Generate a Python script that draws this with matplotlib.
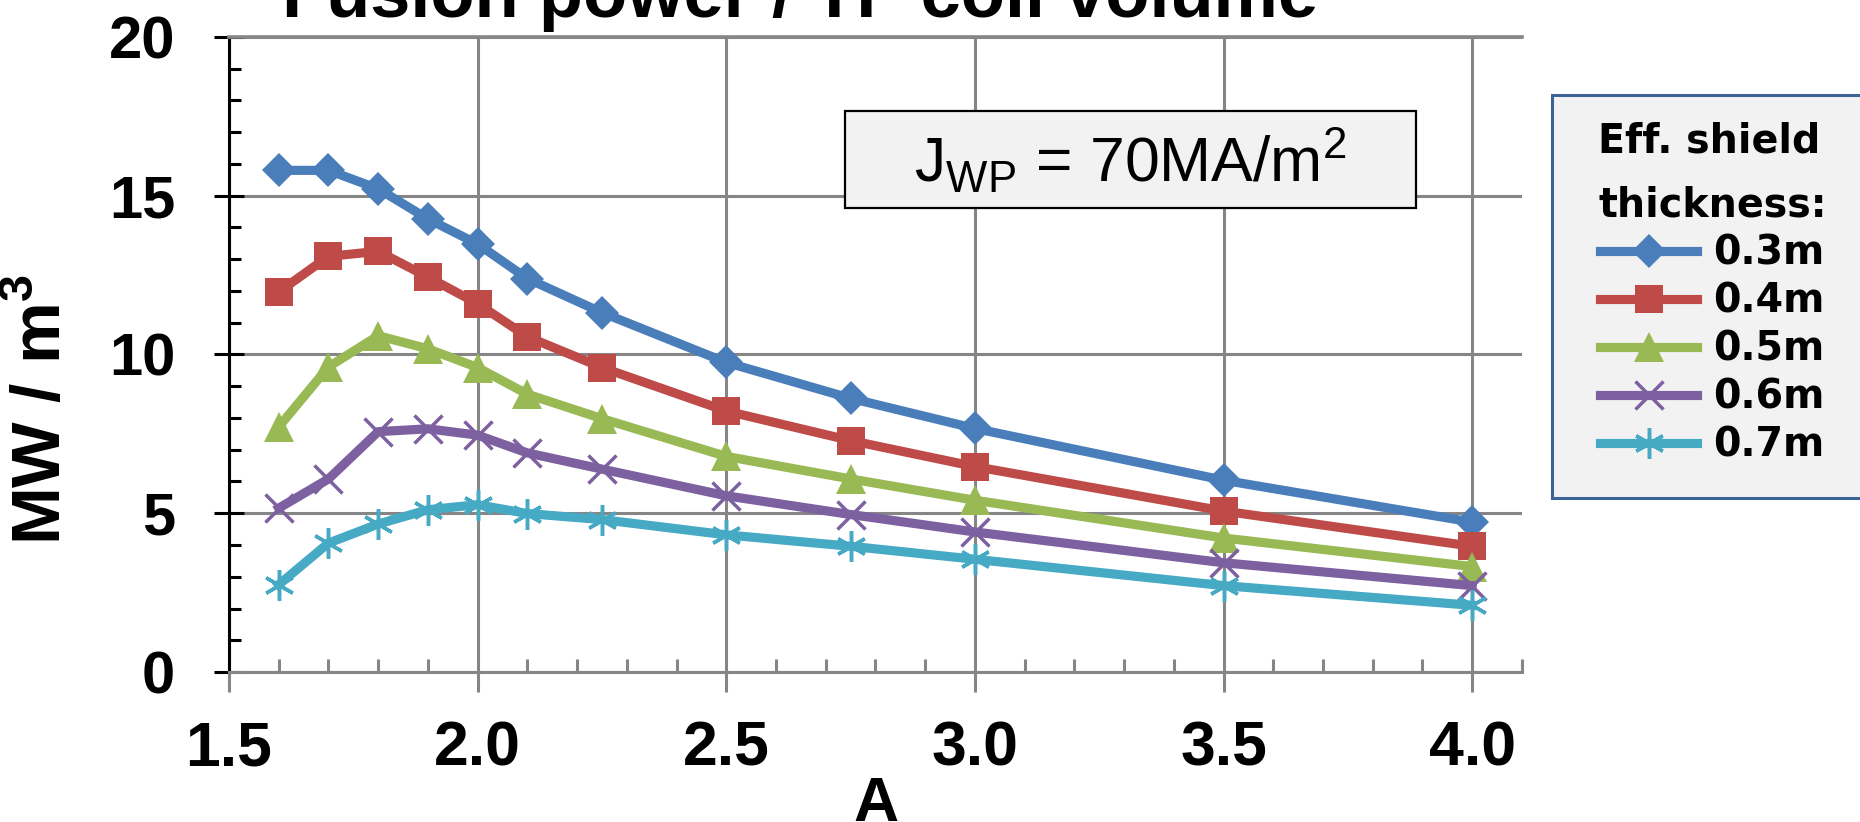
import matplotlib
matplotlib.use("Agg")
import matplotlib.pyplot as plt
from matplotlib import font_manager
from matplotlib.patches import Rectangle
from matplotlib.ticker import MultipleLocator, FormatStrFormatter

# aspect ratio A vs fusion power density for several effective shield thicknesses
A = [1.6, 1.7, 1.8, 1.9, 2.0, 2.1, 2.25, 2.5, 2.75, 3.0, 3.5, 4.0]
p_03 = [15.80, 15.80, 15.22, 14.27, 13.48, 12.39, 11.32, 9.75, 8.62, 7.67, 6.04, 4.72]
p_04 = [11.97, 13.09, 13.25, 12.44, 11.60, 10.56, 9.59, 8.22, 7.29, 6.47, 5.07, 3.96]
p_05 = [7.72, 9.61, 10.59, 10.18, 9.59, 8.75, 7.98, 6.79, 6.08, 5.41, 4.22, 3.32]
p_06 = [5.16, 6.08, 7.57, 7.66, 7.46, 6.90, 6.39, 5.55, 4.96, 4.41, 3.44, 2.72]
p_07 = [2.75, 4.06, 4.66, 5.11, 5.27, 4.99, 4.80, 4.32, 3.96, 3.55, 2.72, 2.10]
labels = ["0.3m", "0.4m", "0.5m", "0.6m", "0.7m"]

W, H = 1860, 822


def pick_font(families, default="DejaVu Sans"):
    for fam in families:
        try:
            font_manager.findfont(fam, fallback_to_default=False)
            return fam
        except ValueError:
            pass
    return default


ARIAL = pick_font(["Liberation Sans", "Arimo"])
NARROW = pick_font(["Liberation Sans Narrow", "Arial Narrow"], default=None)

plt.rcParams["mathtext.fontset"] = "custom"
plt.rcParams["mathtext.rm"] = ARIAL
plt.rcParams["mathtext.bf"] = ARIAL + ":bold"


def fx(px):
    return px / W


def fy(py):
    return 1 - py / H


fig = plt.figure(figsize=(W / 100, H / 100), dpi=100)
ax = fig.add_axes([fx(229), fy(672), (1522 - 229) / W, (672 - 37) / H])

grey = "#868686"
styles = [
    dict(color="#4A7EBB", marker="D", ms=17, mew=0),
    dict(color="#BE4B48", marker="s", ms=20, mew=0),
    dict(color="#98B954", marker="^", ms=21, mew=0),
    dict(color="#7D60A0", marker="x", ms=20, mew=2.5),
    dict(color="#46AAC5", marker=(6, 2, 0), ms=22, mew=2.5),
]
series = [p_03, p_04, p_05, p_06, p_07]
lines = []
for ys, lab, st in zip(series, labels, styles):
    ln, = ax.plot(A, ys, lw=6.6, label=lab, zorder=3, clip_on=False, **st)
    lines.append(ln)

ax.set_xlim(1.5, 4.1001)
ax.set_ylim(0, 20)
ax.xaxis.set_major_locator(MultipleLocator(0.5))
ax.xaxis.set_minor_locator(MultipleLocator(0.1))
ax.xaxis.set_major_formatter(FormatStrFormatter("%.1f"))
ax.yaxis.set_major_locator(MultipleLocator(5))
ax.yaxis.set_minor_locator(MultipleLocator(1))

ax.grid(True, which="major", color=grey, lw=2.2, zorder=0)
ax.set_axisbelow(True)

ax.spines["right"].set_visible(False)
ax.spines["top"].set_color(grey)
ax.spines["top"].set_linewidth(2.6)
ax.spines["bottom"].set_color(grey)
ax.spines["bottom"].set_linewidth(2.2)
ax.spines["left"].set_color("black")
ax.spines["left"].set_linewidth(2.2)

ax.tick_params(axis="x", which="major", direction="out", length=14.5, width=2.2,
               color=grey, pad=20, labelsize=45)
ax.tick_params(axis="x", which="minor", direction="in", length=9.5, width=2.2, color=grey)
ax.tick_params(axis="y", which="major", direction="inout", length=21.5, width=2.2,
               color="black", pad=28, labelsize=43)
ax.tick_params(axis="y", which="minor", direction="in", length=8.6, width=2.2, color="black")
for t in ax.get_xticklabels() + ax.get_yticklabels():
    t.set_fontfamily(ARIAL)
    t.set_fontweight("bold")

# titles / axis labels
fig.text(fx(800), fy(17), "Fusion power / TF coil volume", ha="center", va="baseline",
         fontsize=52, fontweight="bold", family=ARIAL)
fig.text(fx(876), fy(821), "A", ha="center", va="baseline",
         fontsize=45, fontweight="bold", family=ARIAL)
fig.text(fx(42), fy(409), r"MW / m$^\mathbf{3}$", ha="center", va="center", rotation=90,
         fontsize=50, fontweight="bold", family=ARIAL)

# J_WP annotation box
fig.patches.append(Rectangle((fx(845), fy(208)), (1416 - 845) / W, (208 - 111) / H,
                             transform=fig.transFigure, facecolor="#F2F2F2",
                             edgecolor="black", lw=1.6, zorder=5))
fig.text(fx(1130), fy(183), r"J$_\mathrm{WP}$ = 70MA/m$^\mathrm{2}$", ha="center",
         va="baseline", fontsize=45, family=ARIAL, zorder=6)

# legend frame
fig.patches.append(Rectangle((fx(1552), fy(498)), (1900 - 1552) / W, (498 - 95) / H,
                             transform=fig.transFigure, facecolor="#F2F2F2",
                             edgecolor="#3D6496", lw=2.2, zorder=5))
leg = fig.legend(lines, labels, loc="upper left", bbox_to_anchor=(fx(1598), fy(121)),
                 frameon=False, borderpad=0, borderaxespad=0, fontsize=28.5,
                 handlelength=2.45, handletextpad=0.4, labelspacing=0.2,
                 title="Eff. shield\nthickness:")
leg.set_zorder(7)
for t in leg.get_texts():
    t.set_fontweight("bold")
title = leg.get_title()
title.set_fontweight("bold")
if NARROW:
    title.set_fontfamily(NARROW)
    title.set_fontsize(37)
    title.set_linespacing(1.3)
else:
    title.set_fontsize(28.5)
    title.set_linespacing(1.8)

fig.savefig("out.png", dpi=100)
